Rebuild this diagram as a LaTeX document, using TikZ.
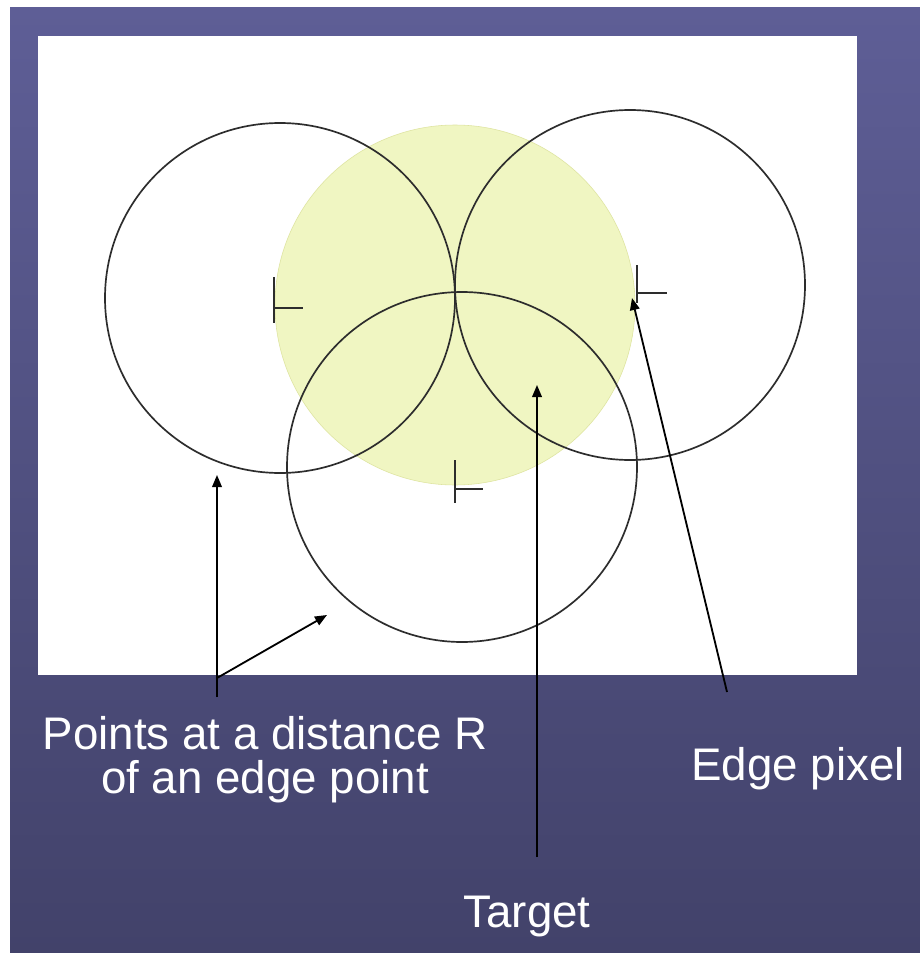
\documentclass[tikz,border=0pt]{standalone}
\usepackage{fontspec}
\setmainfont{Liberation Sans}
\usetikzlibrary{arrows.meta}

\definecolor{slideblue}{RGB}{94,94,150}
\definecolor{slidedark}{RGB}{66,66,106}
\definecolor{targetfill}{RGB}{240,246,194}
\definecolor{targetline}{RGB}{222,228,160}
\definecolor{ringgray}{RGB}{45,45,45}

\begin{document}
\begin{tikzpicture}[x=0.025cm, y=-0.025cm, >={Triangle[length=0.3cm, width=0.24cm]},
  ring/.style={draw=ringgray, line width=1.2pt},
  pointer/.style={->, line width=1.3pt},
  tick/.style={draw=ringgray, line width=1.4pt},
  every node/.style={font=\fontsize{32.5}{31.5}\selectfont, text=white, inner sep=0pt}]
  \useasboundingbox (0,0) rectangle (920,953);
  % slide and white panel
  \fill[white] (0,0) rectangle (920,953);
  \shade[top color=slideblue, bottom color=slidedark] (10,8) rectangle (920,953);
  \fill[white] (38,36) rectangle (857,675);
  % target and circles of radius R
  \coordinate (tc) at (455,305);
  \coordinate (cL) at (280,298);
  \coordinate (cR) at (630,285);
  \coordinate (cB) at (462,467);
  \draw[fill=targetfill, draw=targetline] (tc) circle[radius=180];
  \foreach \c in {cL,cR,cB}
    \draw[ring] (\c) circle[radius=175];
  % edge pixels
  \coordinate (eL) at (274,308);
  \coordinate (eR) at (637,293);
  \coordinate (eB) at (455,489);
  \foreach \e/\up/\dn/\w in {eL/31/15/29, eR/28/10/30, eB/29/14/28}
    \draw[tick] (\e) ++(0,-\up) -- ++(0,\up+\dn) (\e) -- ++(\w,0);
  % labels
  \node[anchor=north, align=center] (pts) at (265,716) {Points at a distance R\\of an edge point};
  \node[anchor=base] (edge) at (798,780) {Edge pixel};
  \node[anchor=base] (tgt) at (527,927) {Target};
  % arrows
  \coordinate (pfoot) at (217,697);
  \coordinate (pfork) at (217,678);
  \coordinate (pL) at (217,475);
  \coordinate (pB) at (327,615);
  \coordinate (tfoot) at (537,857);
  \coordinate (tT) at (537,385);
  \coordinate (efoot) at (727,692);
  \coordinate (eT) at (632,298);
  \draw[pointer] (pfoot) -- (pL);
  \draw[pointer] (pfork) -- (pB);
  \draw[pointer] (tfoot) -- (tT);
  \draw[pointer] (efoot) -- (eT);
\end{tikzpicture}
\end{document}
